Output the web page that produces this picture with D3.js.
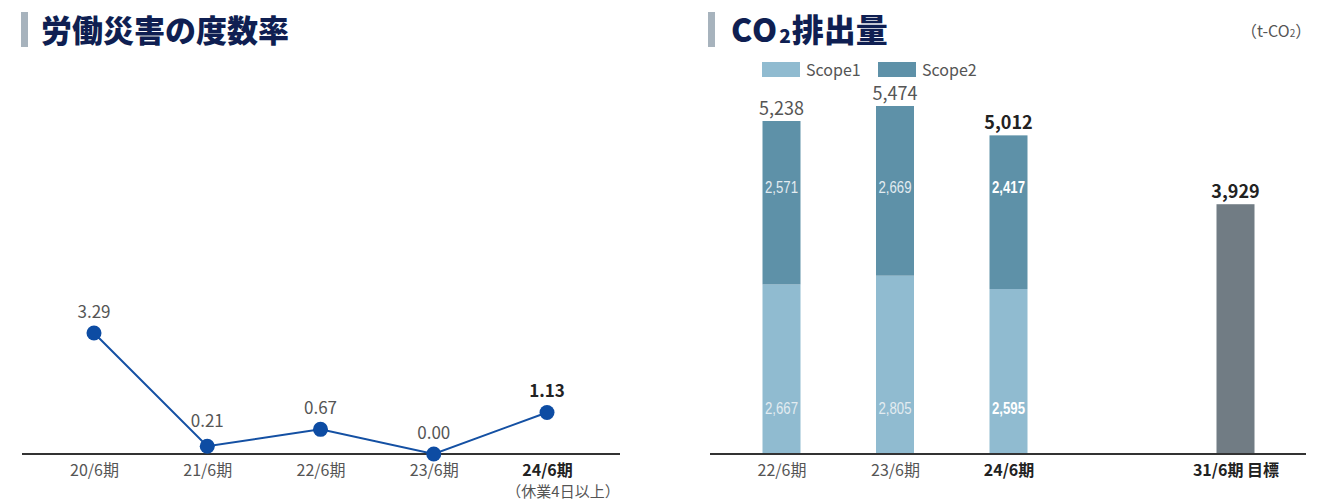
<!DOCTYPE html>
<html lang="ja">
<head>
<meta charset="utf-8">
<script src="https://cdn.jsdelivr.net/npm/d3@7"></script>
<style>
  html, body { margin: 0; padding: 0; background: #fff; }
  svg { display: block; font-family: "Noto Sans CJK JP", "Noto Sans", sans-serif; }
</style>
</head>
<body>
<svg id="chart" width="1342" height="501"></svg>
<script>
// 労働災害の度数率
const rateCategories = ["20/6期", "21/6期", "22/6期", "23/6期", "24/6期"];
const rateValues = [3.29, 0.21, 0.67, 0.00, 1.13];
const rateLabels = ["3.29", "0.21", "0.67", "0.00", "1.13"];
const rateNote = "（休業4日以上）";

// CO2排出量
const co2Categories = ["22/6期", "23/6期", "24/6期", "", "31/6期 目標"];
const scope1Values = [2667, 2805, 2595, null, null];
const scope2Values = [2571, 2669, 2417, null, null];
const targetValues = [null, null, null, null, 3929];
const seriesNames = ["Scope1", "Scope2"];

const fmt = d3.format(",");
const svg = d3.select("#chart");

const BASE = 454;
const colNavy = "#0f1f52";
const colText = "#555";
const colStrong = "#222";

// ---------- headings ----------
function heading(x, y) {
  svg.append("rect").attr("x", x).attr("y", y).attr("width", 7).attr("height", 35).attr("fill", "#a7b3bd");
}
heading(21, 12);
svg.append("text").attr("x", 41).attr("y", 42)
  .attr("font-size", 31).attr("font-weight", 900).attr("fill", colNavy)
  .text("労働災害の度数率");

heading(708, 12);
const co2Title = svg.append("text").attr("x", 731).attr("y", 42)
  .attr("font-size", 32).attr("font-weight", 900).attr("fill", colNavy);
co2Title.append("tspan").attr("letter-spacing", 1).text("CO");
co2Title.append("tspan").attr("font-size", 19).attr("dy", 1).attr("dx", 1).text("2");
co2Title.append("tspan").attr("dy", -1).attr("dx", 1).text("排出量");

const unit = svg.append("text").attr("x", 1241).attr("y", 37)
  .attr("font-size", 16).attr("fill", colText);
unit.append("tspan").text("（t-CO");
unit.append("tspan").attr("font-size", 10).text("2");
unit.append("tspan").text("）");

// ---------- left: line chart ----------
const xL = d3.scalePoint().domain(rateCategories).range([94, 547]);
const yL = d3.scaleLinear().domain([0, 3.29]).range([BASE, 333]);

const axL = svg.append("g").attr("transform", `translate(0,${BASE})`)
  .call(d3.axisBottom(xL).tickSize(0).tickPadding(11));
axL.select(".domain").remove();
axL.selectAll("text")
  .attr("font-size", 16)
  .attr("font-family", "'Noto Sans CJK JP', sans-serif")
  .attr("fill", (d, i) => i === rateCategories.length - 1 ? colStrong : colText)
  .attr("font-weight", (d, i) => i === rateCategories.length - 1 ? 700 : 400);
svg.append("line").attr("x1", 22).attr("x2", 620).attr("y1", BASE).attr("y2", BASE)
  .attr("stroke", "#333").attr("stroke-width", 2);

svg.append("text").attr("x", xL(rateCategories[4]) + 16).attr("y", 497)
  .attr("text-anchor", "middle").attr("font-size", 15).attr("fill", colText).text(rateNote);

const pts = rateCategories.map((c, i) => ({ c, v: rateValues[i], label: rateLabels[i], i }));
svg.append("path").datum(pts)
  .attr("fill", "none").attr("stroke", "#1450a3").attr("stroke-width", 2)
  .attr("d", d3.line().x(d => xL(d.c)).y(d => yL(d.v)));
svg.selectAll("circle.pt").data(pts).join("circle")
  .attr("cx", d => xL(d.c)).attr("cy", d => yL(d.v)).attr("r", 7.5)
  .attr("fill", "#0d4ca3");
svg.selectAll("text.val").data(pts).join("text")
  .attr("x", d => xL(d.c)).attr("y", d => yL(d.v) - 15 - (d.i === 1 ? 4 : 0))
  .attr("text-anchor", "middle").attr("font-size", 17)
  .attr("font-weight", d => d.i === 4 ? 700 : 400)
  .attr("fill", d => d.i === 4 ? colStrong : colText)
  .text(d => d.label);

// ---------- right: stacked bars ----------
const xR = d3.scalePoint().domain(co2Categories).range([781.5, 1235.5]);
const yR = d3.scaleLinear().domain([0, 5238]).range([BASE, 121]);
const bw = 38;
const colS1 = "#90bbd0", colS2 = "#5e91a8", colTarget = "#717c84";

const bars = co2Categories.map((c, i) => ({
  c, i, s1: scope1Values[i], s2: scope2Values[i], t: targetValues[i]
})).filter(d => d.c !== "");

const stacked = bars.filter(d => d.s1 != null);
svg.selectAll("rect.s1").data(stacked).join("rect")
  .attr("x", d => xR(d.c) - bw / 2).attr("width", bw)
  .attr("y", d => yR(d.s1)).attr("height", d => BASE - yR(d.s1))
  .attr("fill", colS1);
svg.selectAll("rect.s2").data(stacked).join("rect")
  .attr("x", d => xR(d.c) - bw / 2).attr("width", bw)
  .attr("y", d => yR(d.s1 + d.s2)).attr("height", d => yR(d.s1) - yR(d.s1 + d.s2))
  .attr("fill", colS2);
const targets = bars.filter(d => d.t != null);
svg.selectAll("rect.tg").data(targets).join("rect")
  .attr("x", d => xR(d.c) - bw / 2).attr("width", bw)
  .attr("y", d => yR(d.t)).attr("height", d => BASE - yR(d.t))
  .attr("fill", colTarget);

// segment values inside the bars (condensed figures)
const latest = 2;
function innerLabel(sel, yPos, getV) {
  sel.attr("x", d => xR(d.c)).attr("y", yPos)
    .attr("text-anchor", "middle").attr("font-size", 17)
    .attr("font-family", "'Liberation Sans Narrow', 'Liberation Sans', sans-serif")
    .attr("font-weight", d => d.i === latest ? 700 : 400)
    .attr("fill", d => d.i === latest ? "#fff" : "#e3ecf1")
    .attr("textLength", 33).attr("lengthAdjust", "spacingAndGlyphs")
    .text(d => fmt(getV(d)));
}
svg.selectAll("text.in2").data(stacked).join("text").call(innerLabel, 193, d => d.s2);
svg.selectAll("text.in1").data(stacked).join("text").call(innerLabel, 414, d => d.s1);

// totals above the bars
const totals = bars.map(d => ({ ...d, total: d.s1 != null ? d.s1 + d.s2 : d.t }));
svg.selectAll("text.tot").data(totals).join("text")
  .attr("x", d => xR(d.c)).attr("y", d => yR(d.total) - 6)
  .attr("text-anchor", "middle").attr("font-size", 18)
  .attr("font-weight", d => d.i >= latest ? 700 : 400)
  .attr("fill", d => d.i >= latest ? colStrong : colText)
  .text(d => fmt(d.total));

// axis
const axR = svg.append("g").attr("transform", `translate(0,${BASE})`)
  .call(d3.axisBottom(xR).tickSize(0).tickPadding(11));
axR.select(".domain").remove();
axR.selectAll("text")
  .attr("font-size", 16)
  .attr("font-family", "'Noto Sans CJK JP', sans-serif")
  .attr("fill", (d, i) => i >= latest ? colStrong : colText)
  .attr("font-weight", (d, i) => i >= latest ? 700 : 400);
svg.append("line").attr("x1", 710).attr("x2", 1306).attr("y1", BASE).attr("y2", BASE)
  .attr("stroke", "#333").attr("stroke-width", 2);

// legend
const legend = svg.append("g");
const legItems = seriesNames.map((n, i) => ({ n, col: i === 0 ? colS1 : colS2, x: 762 + i * 116 }));
legend.selectAll("rect").data(legItems).join("rect")
  .attr("x", d => d.x).attr("y", 62).attr("width", 38).attr("height", 15).attr("fill", d => d.col);
legend.selectAll("text").data(legItems).join("text")
  .attr("x", d => d.x + 44).attr("y", 76).attr("font-size", 16).attr("fill", colText)
  .text(d => d.n);
</script>
</body>
</html>
